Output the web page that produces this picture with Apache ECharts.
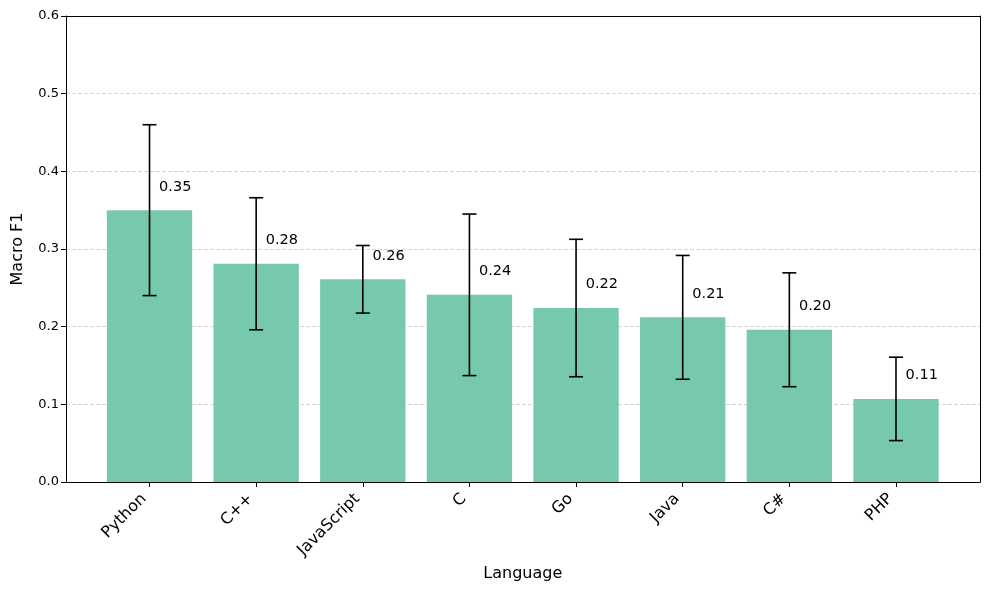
<!DOCTYPE html>
<html><head><meta charset="utf-8">
<script src="https://cdn.jsdelivr.net/npm/echarts@6/dist/echarts.min.js"></script>
<style>html,body{margin:0;padding:0;background:#fff}#c{width:989px;height:590px}</style>
</head><body><div id="c"></div>
<script>
const languages = ['Python','C++','JavaScript','C','Go','Java','C#','PHP'];
const meanF1 = [0.350, 0.281, 0.261, 0.241, 0.224, 0.212, 0.196, 0.107];
const stdF1 = [0.110, 0.085, 0.0435, 0.104, 0.0885, 0.0797, 0.0733, 0.0537];
const yTicks = [0, 0.1, 0.2, 0.3, 0.4, 0.5, 0.6];

const FONT = 'DejaVu Sans';
const chart = echarts.init(document.getElementById('c'), null, {renderer:'canvas'});
const errData = languages.map((l,i)=>[i, meanF1[i]-stdF1[i], meanF1[i]+stdF1[i]]);
const lblData = languages.map((l,i)=>[i, meanF1[i]]);
const yMin = yTicks[0], yMax = yTicks[yTicks.length-1];
const frameLine = {show:true,onZero:false,lineStyle:{color:'#000',width:1}};

chart.setOption({
  animation:false,
  grid:[
    {left:66,right:9,top:16,bottom:108},
    {left:96.2,right:39.7,top:16,bottom:108}
  ],
  xAxis:[
    {type:'value',gridIndex:0,min:0,max:1,position:'bottom',axisLine:frameLine,axisTick:{show:false},axisLabel:{show:false},splitLine:{show:false}},
    {type:'category',gridIndex:1,data:languages,
      name:'Language',nameLocation:'middle',nameGap:82,
      nameTextStyle:{fontFamily:FONT,fontSize:16,color:'#000'},
      axisLine:{show:false},
      axisTick:{show:true,alignWithLabel:true,length:5,lineStyle:{color:'#000'}},
      axisLabel:{rotate:45,fontFamily:FONT,fontSize:16,color:'#000',margin:20,align:'right',verticalAlign:'bottom'}},
    {type:'value',gridIndex:0,min:0,max:1,position:'top',axisLine:frameLine,axisTick:{show:false},axisLabel:{show:false},splitLine:{show:false}}
  ],
  yAxis:[
    {type:'value',gridIndex:0,min:yMin,max:yMax,interval:0.1,
      name:'Macro F1',nameLocation:'middle',nameGap:40,
      nameTextStyle:{fontFamily:FONT,fontSize:16,color:'#000'},
      axisLine:frameLine,
      axisTick:{show:true,length:5,lineStyle:{color:'#000'}},
      axisLabel:{fontFamily:FONT,fontSize:13,color:'#000',margin:7,formatter:v=>v.toFixed(1)},
      splitLine:{show:true,lineStyle:{color:'#cccccc',type:[4,2],width:0.8}}},
    {type:'value',gridIndex:1,min:yMin,max:yMax,interval:0.1,show:false,splitLine:{show:false}},
    {type:'value',gridIndex:0,min:yMin,max:yMax,interval:0.1,position:'right',axisLine:frameLine,axisTick:{show:false},axisLabel:{show:false},splitLine:{show:false}}
  ],
  series:[
    {type:'bar',xAxisIndex:1,yAxisIndex:1,data:meanF1,barCategoryGap:'20%',itemStyle:{color:'#76c8ae'}},
    {type:'custom',xAxisIndex:1,yAxisIndex:1,data:errData,z:5,renderItem:(params,api)=>{
      const x=api.value(0);
      const lo=api.coord([x,api.value(1)]);
      const hi=api.coord([x,api.value(2)]);
      const cap=7;
      const st={stroke:'#000',lineWidth:1.6};
      return {type:'group',children:[
        {type:'line',shape:{x1:lo[0],y1:lo[1],x2:hi[0],y2:hi[1]},style:st},
        {type:'line',shape:{x1:lo[0]-cap,y1:lo[1],x2:lo[0]+cap,y2:lo[1]},style:st},
        {type:'line',shape:{x1:hi[0]-cap,y1:hi[1],x2:hi[0]+cap,y2:hi[1]},style:st}
      ]};
    }},
    {type:'custom',xAxisIndex:1,yAxisIndex:1,data:lblData,z:6,renderItem:(params,api)=>{
      const x=api.value(0), v=api.value(1);
      const p=api.coord([x,v+0.03]);
      const w=api.size([1,0])[0];
      return {type:'text',x:p[0]+w*0.09,y:p[1],style:{text:v.toFixed(2),fill:'#000',font:'14.5px "DejaVu Sans"',align:'left',verticalAlign:'middle'}};
    }}
  ]
});
</script></body></html>
